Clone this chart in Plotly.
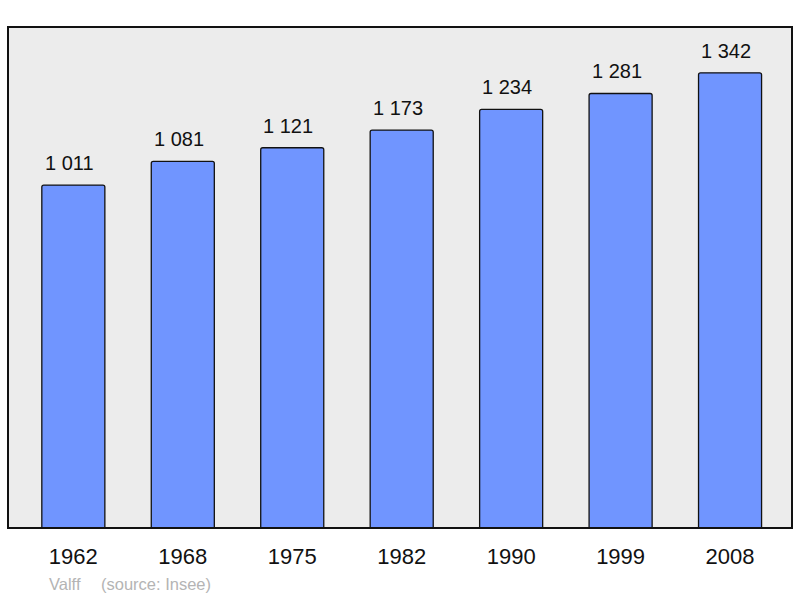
import plotly.graph_objects as go

years = ["1962", "1968", "1975", "1982", "1990", "1999", "2008"]
population = [1011, 1081, 1121, 1173, 1234, 1281, 1342]
labels = ["1 011", "1 081", "1 121", "1 173", "1 234", "1 281", "1 342"]
commune = "Valff"
source = "(source: Insee)"

xs = list(range(len(years)))
FONT = "Liberation Sans, Arial, sans-serif"

fig = go.Figure()
fig.add_trace(go.Bar(
    x=xs, y=population, width=0.576,
    marker=dict(color="#7095ff", line=dict(color="#111111", width=1.3), cornerradius=2),
    hoverinfo="skip",
))

for x, v, t in zip(xs, population, labels):
    fig.add_annotation(x=x, y=v, text=t, showarrow=False, yanchor="bottom", yshift=9, xshift=-4,
                       font=dict(size=20, color="#111111", family=FONT))

fig.add_annotation(xref="paper", yref="paper", x=(47 - 8) / 783.7, y=-0.112, xanchor="left", yanchor="middle",
                   text=commune, showarrow=False,
                   font=dict(size=16.5, color="#b4b4b4", family=FONT))
fig.add_annotation(xref="paper", yref="paper", x=(99 - 8) / 783.7, y=-0.112, xanchor="left", yanchor="middle",
                   text=source, showarrow=False,
                   font=dict(size=16.5, color="#b4b4b4", family=FONT))

fig.add_shape(type="rect", xref="paper", yref="paper", x0=0, x1=1, y0=0, y1=1,
              line=dict(color="#111111", width=2), layer="above")

fig.update_layout(
    width=800, height=598,
    margin=dict(l=8, r=8, t=27, b=70),
    paper_bgcolor="white",
    plot_bgcolor="#ececec",
    showlegend=False,
    font=dict(family=FONT, color="#111111"),
    xaxis=dict(range=[-0.597, 6.566], tickmode="array", tickvals=xs, ticktext=years,
               showgrid=False, zeroline=False, showline=False, ticks="",
               tickfont=dict(size=22, color="#111111"), ticklabelstandoff=13),
    yaxis=dict(range=[0, 1477], showgrid=False, zeroline=False, showticklabels=False,
               showline=False, ticks=""),
)

fig.write_html("out.html", config={"displayModeBar": False},
               post_script="document.body.style.margin='0';")
